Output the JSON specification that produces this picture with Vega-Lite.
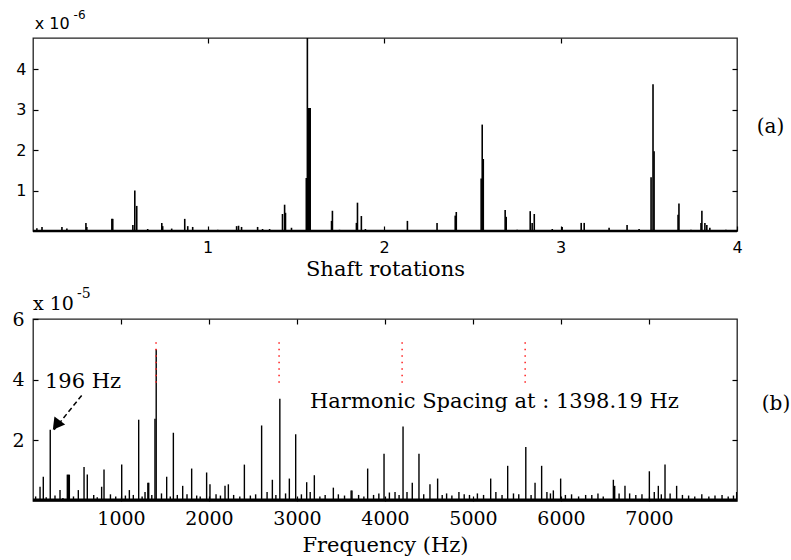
{
  "$schema": "https://vega.github.io/schema/vega-lite/v6.json",
  "autosize": {"type": "pad"},
  "padding": {"left": 11, "top": 8, "right": 0, "bottom": 0},
  "bounds": "flush",
  "spacing": 88,
  "background": "white",
  "config": {
    "view": {"stroke": "#222", "strokeWidth": 1.3},
    "axis": {"domain": false, "grid": false, "tickColor": "black", "labelColor": "black", "titleColor": "black", "tickSize": -5, "tickWidth": 1.2, "titleFontWeight": "normal", "titleFont": "DejaVu Serif"}
  },
  "datasets": {
    "a": [
      {"r": 0.032, "amp": 0.07}, {"r": 0.061, "amp": 0.1}, {"r": 0.174, "amp": 0.1}, {"r": 0.202, "amp": 0.06},
      {"r": 0.31, "amp": 0.2}, {"r": 0.315, "amp": 0.1}, {"r": 0.457, "amp": 0.3}, {"r": 0.462, "amp": 0.3},
      {"r": 0.576, "amp": 0.15}, {"r": 0.587, "amp": 1.0}, {"r": 0.598, "amp": 0.62}, {"r": 0.66, "amp": 0.05},
      {"r": 0.74, "amp": 0.2}, {"r": 0.745, "amp": 0.12}, {"r": 0.796, "amp": 0.06}, {"r": 0.87, "amp": 0.3},
      {"r": 0.887, "amp": 0.12}, {"r": 0.915, "amp": 0.1}, {"r": 1.057, "amp": 0.03}, {"r": 1.164, "amp": 0.12},
      {"r": 1.175, "amp": 0.13}, {"r": 1.192, "amp": 0.1}, {"r": 1.283, "amp": 0.1}, {"r": 1.311, "amp": 0.05},
      {"r": 1.351, "amp": 0.05}, {"r": 1.424, "amp": 0.42}, {"r": 1.436, "amp": 0.65}, {"r": 1.441, "amp": 0.45},
      {"r": 1.475, "amp": 0.08}, {"r": 1.559, "amp": 1.31}, {"r": 1.565, "amp": 5.0}, {"r": 1.571, "amp": 3.04},
      {"r": 1.576, "amp": 3.04}, {"r": 1.581, "amp": 3.04}, {"r": 1.702, "amp": 0.25}, {"r": 1.707, "amp": 0.5},
      {"r": 1.747, "amp": 0.03}, {"r": 1.843, "amp": 0.2}, {"r": 1.849, "amp": 0.7}, {"r": 1.871, "amp": 0.37},
      {"r": 1.894, "amp": 0.05}, {"r": 2.132, "amp": 0.25}, {"r": 2.3, "amp": 0.2}, {"r": 2.403, "amp": 0.38},
      {"r": 2.409, "amp": 0.47}, {"r": 2.55, "amp": 1.3}, {"r": 2.556, "amp": 2.63}, {"r": 2.562, "amp": 1.78},
      {"r": 2.686, "amp": 0.52}, {"r": 2.692, "amp": 0.35}, {"r": 2.754, "amp": 0.03}, {"r": 2.828, "amp": 0.49},
      {"r": 2.839, "amp": 0.2}, {"r": 2.851, "amp": 0.42}, {"r": 2.953, "amp": 0.05}, {"r": 3.009, "amp": 0.1},
      {"r": 3.117, "amp": 0.2}, {"r": 3.134, "amp": 0.2}, {"r": 3.275, "amp": 0.08}, {"r": 3.377, "amp": 0.15},
      {"r": 3.445, "amp": 0.05}, {"r": 3.513, "amp": 1.33}, {"r": 3.524, "amp": 3.63}, {"r": 3.53, "amp": 1.97},
      {"r": 3.666, "amp": 0.4}, {"r": 3.671, "amp": 0.68}, {"r": 3.739, "amp": 0.03}, {"r": 3.796, "amp": 0.2},
      {"r": 3.801, "amp": 0.5}, {"r": 3.818, "amp": 0.2}, {"r": 3.829, "amp": 0.15}, {"r": 3.846, "amp": 0.08},
      {"r": 3.937, "amp": 0.03}
    ],
    "b": [
      {"f": 30, "amp": 0.15}, {"f": 80, "amp": 0.47}, {"f": 117, "amp": 0.8}, {"f": 150, "amp": 0.12},
      {"f": 196, "amp": 2.35}, {"f": 250, "amp": 0.18}, {"f": 307, "amp": 0.36}, {"f": 340, "amp": 0.1},
      {"f": 390, "amp": 0.87}, {"f": 402, "amp": 0.87}, {"f": 413, "amp": 0.87}, {"f": 460, "amp": 0.15},
      {"f": 515, "amp": 0.36}, {"f": 580, "amp": 1.12}, {"f": 617, "amp": 0.87}, {"f": 690, "amp": 0.2},
      {"f": 730, "amp": 0.12}, {"f": 780, "amp": 0.47}, {"f": 807, "amp": 1.04}, {"f": 880, "amp": 0.22},
      {"f": 940, "amp": 0.15}, {"f": 1008, "amp": 1.2}, {"f": 1050, "amp": 0.18}, {"f": 1095, "amp": 0.36},
      {"f": 1140, "amp": 0.2}, {"f": 1201, "amp": 2.68}, {"f": 1240, "amp": 0.15}, {"f": 1273, "amp": 0.3},
      {"f": 1305, "amp": 0.6}, {"f": 1315, "amp": 0.6}, {"f": 1350, "amp": 0.2}, {"f": 1386, "amp": 2.71},
      {"f": 1400, "amp": 5.0}, {"f": 1460, "amp": 0.25}, {"f": 1519, "amp": 0.8}, {"f": 1560, "amp": 0.15},
      {"f": 1595, "amp": 2.25}, {"f": 1640, "amp": 0.2}, {"f": 1701, "amp": 0.5}, {"f": 1750, "amp": 0.22},
      {"f": 1803, "amp": 1.07}, {"f": 1860, "amp": 0.18}, {"f": 1900, "amp": 0.15}, {"f": 1973, "amp": 0.94},
      {"f": 2011, "amp": 0.55}, {"f": 2080, "amp": 0.22}, {"f": 2130, "amp": 0.18}, {"f": 2182, "amp": 0.5},
      {"f": 2220, "amp": 0.55}, {"f": 2280, "amp": 0.2}, {"f": 2350, "amp": 0.15}, {"f": 2402, "amp": 1.2},
      {"f": 2470, "amp": 0.18}, {"f": 2530, "amp": 0.22}, {"f": 2598, "amp": 2.49}, {"f": 2660, "amp": 0.3},
      {"f": 2720, "amp": 0.7}, {"f": 2760, "amp": 0.2}, {"f": 2805, "amp": 3.37}, {"f": 2870, "amp": 0.25},
      {"f": 2913, "amp": 0.74}, {"f": 2985, "amp": 2.2}, {"f": 3050, "amp": 0.22}, {"f": 3110, "amp": 0.62},
      {"f": 3150, "amp": 0.3}, {"f": 3197, "amp": 0.85}, {"f": 3260, "amp": 0.15}, {"f": 3320, "amp": 0.2},
      {"f": 3413, "amp": 0.44}, {"f": 3470, "amp": 0.22}, {"f": 3540, "amp": 0.18}, {"f": 3615, "amp": 0.35},
      {"f": 3625, "amp": 0.35}, {"f": 3700, "amp": 0.2}, {"f": 3760, "amp": 0.15}, {"f": 3803, "amp": 1.07},
      {"f": 3870, "amp": 0.2}, {"f": 3930, "amp": 0.25}, {"f": 3989, "amp": 1.56}, {"f": 4050, "amp": 0.28},
      {"f": 4114, "amp": 0.3}, {"f": 4160, "amp": 0.2}, {"f": 4205, "amp": 2.46}, {"f": 4250, "amp": 0.3},
      {"f": 4310, "amp": 0.6}, {"f": 4386, "amp": 1.56}, {"f": 4440, "amp": 0.22}, {"f": 4511, "amp": 0.55},
      {"f": 4598, "amp": 0.74}, {"f": 4650, "amp": 0.2}, {"f": 4700, "amp": 0.25}, {"f": 4760, "amp": 0.18},
      {"f": 4840, "amp": 0.3}, {"f": 4900, "amp": 0.22}, {"f": 4960, "amp": 0.2}, {"f": 5050, "amp": 0.25},
      {"f": 5120, "amp": 0.2}, {"f": 5201, "amp": 0.74}, {"f": 5260, "amp": 0.3}, {"f": 5330, "amp": 0.2},
      {"f": 5394, "amp": 1.16}, {"f": 5460, "amp": 0.25}, {"f": 5520, "amp": 0.22}, {"f": 5600, "amp": 1.78},
      {"f": 5660, "amp": 0.2}, {"f": 5705, "amp": 0.6}, {"f": 5780, "amp": 1.16}, {"f": 5840, "amp": 0.3},
      {"f": 5880, "amp": 0.25}, {"f": 5913, "amp": 0.35}, {"f": 5996, "amp": 0.74}, {"f": 6050, "amp": 0.2},
      {"f": 6120, "amp": 0.22}, {"f": 6200, "amp": 0.15}, {"f": 6280, "amp": 0.2}, {"f": 6350, "amp": 0.2},
      {"f": 6420, "amp": 0.25}, {"f": 6480, "amp": 0.15}, {"f": 6595, "amp": 0.7}, {"f": 6610, "amp": 0.5},
      {"f": 6660, "amp": 0.25}, {"f": 6727, "amp": 0.5}, {"f": 6780, "amp": 0.25}, {"f": 6850, "amp": 0.2},
      {"f": 6920, "amp": 0.22}, {"f": 7004, "amp": 0.98}, {"f": 7060, "amp": 0.3}, {"f": 7106, "amp": 0.5},
      {"f": 7140, "amp": 0.22}, {"f": 7182, "amp": 1.2}, {"f": 7240, "amp": 0.25}, {"f": 7314, "amp": 0.5},
      {"f": 7380, "amp": 0.2}, {"f": 7450, "amp": 0.18}, {"f": 7520, "amp": 0.15}, {"f": 7600, "amp": 0.22},
      {"f": 7680, "amp": 0.15}, {"f": 7750, "amp": 0.18}, {"f": 7830, "amp": 0.2}, {"f": 7900, "amp": 0.15},
      {"f": 7960, "amp": 0.18}, {"f": 7996, "amp": 0.3}
    ],
    "harm": [{"f": 1398.19}, {"f": 2796.38}, {"f": 4194.57}, {"f": 5592.76}],
    "one": [{}]
  },
  "vconcat": [
    {
      "width": 704,
      "height": 193,
      "resolve": {"axis": {"x": "independent", "y": "independent"}},
      "layer": [
        {
          "data": {"name": "a"},
          "mark": {"type": "rule", "color": "black", "strokeWidth": 1.6, "clip": true},
          "encoding": {
            "x": {"field": "r", "type": "quantitative", "scale": {"domain": [0.01, 4], "nice": false, "zero": false},
              "axis": {"orient": "bottom", "values": [1, 2, 3, 4], "labelFont": "DejaVu Sans", "labelFontSize": 16, "labelPadding": 13, "labelFlush": false,
                "title": "Shaft rotations", "titleFont": "DejaVu Serif", "titleFontSize": 21, "titlePadding": 3}},
            "y": {"field": "amp", "type": "quantitative", "scale": {"domain": [0, 4.77], "nice": false, "zero": false},
              "axis": {"orient": "left", "values": [1, 2, 3, 4], "labelFont": "DejaVu Sans", "labelFontSize": 16, "labelPadding": 12, "title": null}},
            "y2": {"datum": 0}
          }
        },
        {
          "data": {"name": "a"},
          "mark": {"type": "point", "opacity": 0},
          "encoding": {
            "x": {"field": "r", "type": "quantitative", "scale": {"domain": [0.01, 4], "nice": false, "zero": false},
              "axis": {"orient": "top", "values": [1, 2, 3], "labels": false, "title": null}},
            "y": {"field": "amp", "type": "quantitative", "scale": {"domain": [0, 4.77], "nice": false, "zero": false},
              "axis": {"orient": "right", "values": [1, 2, 3, 4], "labels": false, "title": null}}
          }
        },
        {
          "data": {"name": "one"},
          "mark": {"type": "rule", "color": "black", "strokeWidth": 2.5},
          "encoding": {"y": {"datum": 0, "axis": null}}
        },
        {
          "data": {"name": "one"},
          "mark": {"type": "text", "text": "x 10", "font": "DejaVu Sans", "fontSize": 16, "align": "left", "baseline": "middle", "color": "black"},
          "encoding": {"x": {"datum": 0.02, "axis": null}, "y": {"datum": 5.11, "axis": null}}
        },
        {
          "data": {"name": "one"},
          "mark": {"type": "text", "text": "-6", "font": "DejaVu Sans", "fontSize": 12, "align": "left", "baseline": "middle", "color": "black"},
          "encoding": {"x": {"datum": 0.24, "axis": null}, "y": {"datum": 5.33, "axis": null}}
        },
        {
          "data": {"name": "one"},
          "mark": {"type": "text", "text": "(a)", "font": "DejaVu Serif", "fontSize": 20, "align": "center", "baseline": "middle", "color": "black"},
          "encoding": {"x": {"datum": 4.19, "axis": null}, "y": {"datum": 2.57, "axis": null}}
        }
      ]
    },
    {
      "width": 704,
      "height": 182,
      "resolve": {"axis": {"x": "independent", "y": "independent"}},
      "layer": [
        {
          "data": {"name": "b"},
          "mark": {"type": "rule", "color": "black", "strokeWidth": 1.4, "clip": true},
          "encoding": {
            "x": {"field": "f", "type": "quantitative", "scale": {"domain": [0, 8000], "nice": false, "zero": false},
              "axis": {"orient": "bottom", "values": [1000, 2000, 3000, 4000, 5000, 6000, 7000], "format": "d", "labelFont": "DejaVu Serif", "labelFontSize": 19, "labelPadding": 13, "labelFlush": false,
                "title": "Frequency (Hz)", "titleFont": "DejaVu Serif", "titleFontSize": 21, "titlePadding": 6}},
            "y": {"field": "amp", "type": "quantitative", "scale": {"domain": [0, 6], "nice": false, "zero": false},
              "axis": {"orient": "left", "values": [2, 4, 6], "labelFont": "DejaVu Serif", "labelFontSize": 19, "labelPadding": 14, "title": null}},
            "y2": {"datum": 0}
          }
        },
        {
          "data": {"name": "b"},
          "mark": {"type": "point", "opacity": 0},
          "encoding": {
            "x": {"field": "f", "type": "quantitative", "scale": {"domain": [0, 8000], "nice": false, "zero": false},
              "axis": {"orient": "top", "values": [1000, 2000, 3000, 4000, 5000, 6000, 7000], "labels": false, "title": null}},
            "y": {"field": "amp", "type": "quantitative", "scale": {"domain": [0, 6], "nice": false, "zero": false},
              "axis": {"orient": "right", "values": [2, 4], "labels": false, "title": null}}
          }
        },
        {
          "data": {"name": "one"},
          "mark": {"type": "rule", "color": "black", "strokeWidth": 3},
          "encoding": {"y": {"datum": 0.03, "axis": null}}
        },
        {
          "data": {"name": "harm"},
          "mark": {"type": "rule", "color": "#ff2020", "strokeWidth": 1.5, "strokeDash": [1.5, 5]},
          "encoding": {
            "x": {"field": "f", "type": "quantitative", "axis": null},
            "y": {"datum": 3.9, "axis": null},
            "y2": {"datum": 5.33}
          }
        },
        {
          "data": {"name": "one"},
          "mark": {"type": "rule", "color": "black", "strokeWidth": 1.5, "strokeDash": [5, 3]},
          "encoding": {
            "x": {"datum": 553, "axis": null}, "y": {"datum": 3.48, "axis": null},
            "x2": {"datum": 240}, "y2": {"datum": 2.35}
          }
        },
        {
          "data": {"name": "one"},
          "mark": {"type": "point", "shape": "triangle-up", "filled": true, "color": "black", "opacity": 1, "size": 180, "angle": 217},
          "encoding": {"x": {"datum": 265, "axis": null}, "y": {"datum": 2.5, "axis": null}}
        },
        {
          "data": {"name": "one"},
          "mark": {"type": "text", "text": "196 Hz", "font": "DejaVu Serif", "fontSize": 21, "align": "left", "baseline": "middle", "color": "black"},
          "encoding": {"x": {"datum": 136, "axis": null}, "y": {"datum": 3.91, "axis": null}}
        },
        {
          "data": {"name": "one"},
          "mark": {"type": "text", "text": "Harmonic Spacing at : 1398.19 Hz", "font": "DejaVu Serif", "fontSize": 21, "align": "left", "baseline": "middle", "color": "black"},
          "encoding": {"x": {"datum": 3148, "axis": null}, "y": {"datum": 3.28, "axis": null}}
        },
        {
          "data": {"name": "one"},
          "mark": {"type": "text", "text": "x 10", "font": "DejaVu Serif", "fontSize": 19, "align": "left", "baseline": "middle", "color": "black"},
          "encoding": {"x": {"datum": 0, "axis": null}, "y": {"datum": 6.49, "axis": null}}
        },
        {
          "data": {"name": "one"},
          "mark": {"type": "text", "text": "-5", "font": "DejaVu Serif", "fontSize": 14, "align": "left", "baseline": "middle", "color": "black"},
          "encoding": {"x": {"datum": 500, "axis": null}, "y": {"datum": 6.82, "axis": null}}
        },
        {
          "data": {"name": "one"},
          "mark": {"type": "text", "text": "(b)", "font": "DejaVu Serif", "fontSize": 20, "align": "center", "baseline": "middle", "color": "black"},
          "encoding": {"x": {"datum": 8443, "axis": null}, "y": {"datum": 3.21, "axis": null}}
        }
      ]
    }
  ]
}
